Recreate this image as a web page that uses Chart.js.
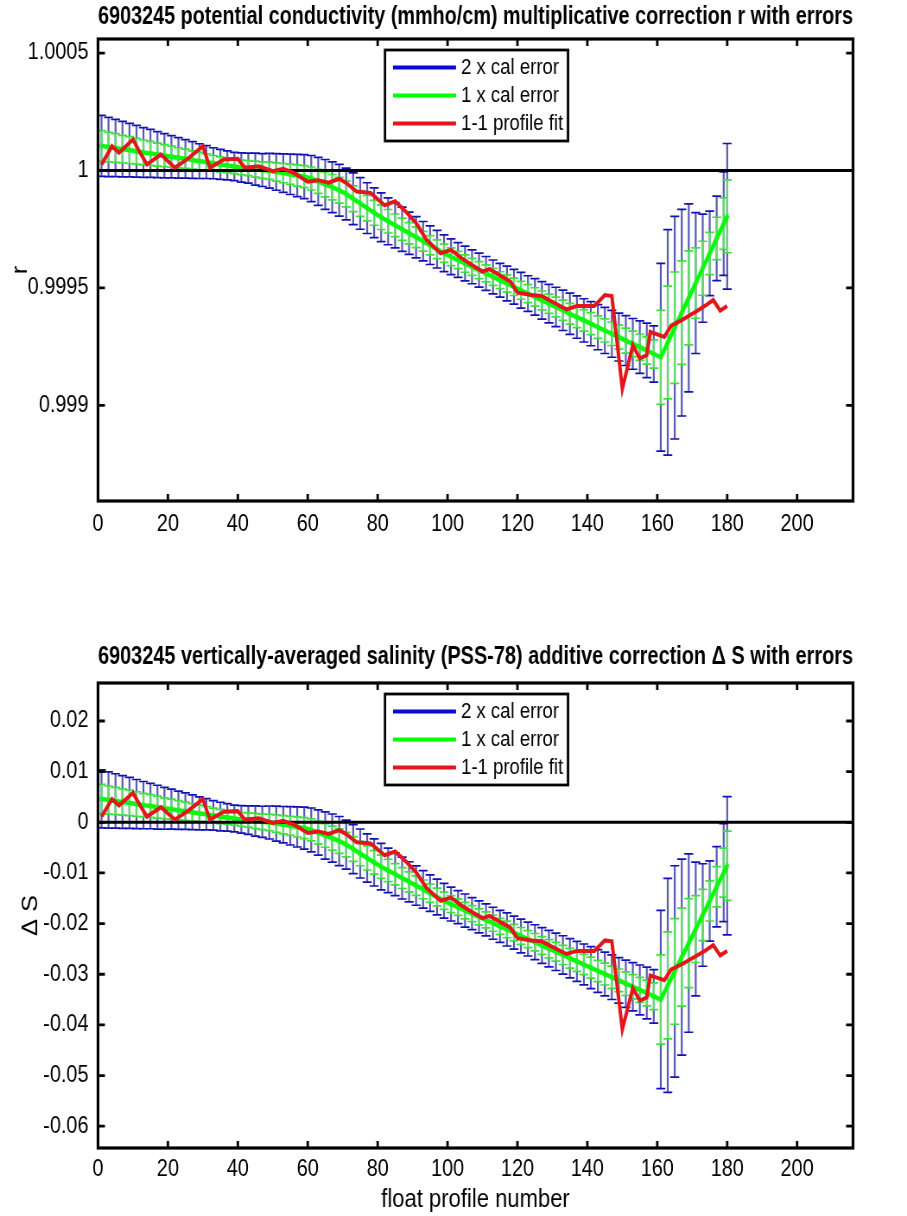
<!DOCTYPE html>
<html>
<head>
<meta charset="utf-8">
<script src="https://cdn.jsdelivr.net/npm/chart.js@4.4.1/dist/chart.umd.min.js"></script>
<style>
  html, body { margin: 0; padding: 0; background: #fff; overflow: hidden; }
  /* the original figure was squeezed horizontally, so draw wide and scale it back */
  canvas { position: absolute; left: 0; transform-origin: 0 0; transform: scaleX(0.8638); }
  #top { top: 0; }
  #bottom { top: 600px; }
</style>
</head>
<body>
<canvas id="top" width="1050" height="600"></canvas>
<canvas id="bottom" width="1050" height="616"></canvas>
<script>
// profile numbers used for the calibration fit + error bars
const profiles = [1,3,5,7,9,11,13,15,17,19,21,23,25,27,29,31,33,35,37,39,41,43,45,47,49,51,53,55,57,59,
  61,63,65,67,69,71,73,75,77,79,81,83,85,87,89,91,93,95,97,99,101,103,105,107,109,111,113,115,117,119,
  121,123,125,127,129,131,133,135,137,139,141,143,145,147,149,151,153,155,157,159,161,163,165,167,169,171,173,175,177,179,180];

// r (multiplicative correction) fit and 1 x cal error
const rFit = [1.000105,1.000100,1.000096,1.000091,1.000087,1.000082,1.000077,1.000073,1.000068,1.000063,
  1.000059,1.000054,1.000050,1.000045,1.000040,1.000036,1.000031,1.000026,1.000022,1.000017,
  1.000013,1.000010,1.000006,1.000002,0.999999,0.999994,0.999989,0.999984,0.999979,0.999974,
  0.999966,0.999954,0.999941,0.999929,0.999916,0.999900,0.999880,0.999860,0.999840,0.999820,
  0.999801,0.999784,0.999767,0.999750,0.999733,0.999716,0.999699,0.999682,0.999665,0.999648,
  0.999633,0.999619,0.999604,0.999590,0.999576,0.999562,0.999547,0.999533,0.999519,0.999505,
  0.999490,0.999476,0.999462,0.999447,0.999433,0.999419,0.999405,0.999390,0.999376,0.999362,
  0.999348,0.999333,0.999319,0.999305,0.999291,0.999276,0.999262,0.999248,0.999234,0.999219,
  0.999205,0.999268,0.999331,0.999395,0.999458,0.999521,0.999584,0.999647,0.999711,0.999774,0.999805];
const rErr = [0.000065,0.000063,0.000061,0.000059,0.000057,0.000055,0.000053,0.000051,0.000049,0.000047,
  0.000045,0.000043,0.000041,0.000039,0.000037,0.000035,0.000033,0.000032,0.000031,0.000030,
  0.000031,0.000032,0.000034,0.000035,0.000037,0.000039,0.000041,0.000043,0.000045,0.000047,
  0.000049,0.000051,0.000053,0.000054,0.000055,0.000055,0.000055,0.000055,0.000054,0.000053,
  0.000052,0.000050,0.000048,0.000047,0.000045,0.000044,0.000042,0.000041,0.000040,0.000039,
  0.000038,0.000037,0.000037,0.000036,0.000036,0.000036,0.000036,0.000036,0.000037,0.000037,
  0.000038,0.000038,0.000039,0.000040,0.000041,0.000042,0.000043,0.000044,0.000045,0.000046,
  0.000047,0.000048,0.000049,0.000050,0.000051,0.000053,0.000054,0.000056,0.000058,0.000060,
  0.000200,0.000240,0.000237,0.000220,0.000200,0.000150,0.000115,0.000090,0.000090,0.000110,0.000155];

// delta S (additive correction) fit and 1 x cal error
const dsFit = [0.00462,0.00440,0.00422,0.00400,0.00383,0.00361,0.00339,0.00321,0.00299,0.00277,
  0.00260,0.00238,0.00220,0.00198,0.00176,0.00158,0.00136,0.00114,0.00097,0.00075,
  0.00057,0.00044,0.00026,0.00009,-0.00004,-0.00026,-0.00048,-0.00070,-0.00092,-0.00114,
  -0.00150,-0.00202,-0.00260,-0.00312,-0.00370,-0.00440,-0.00528,-0.00616,-0.00704,-0.00792,
  -0.00876,-0.00950,-0.01025,-0.01100,-0.01175,-0.01250,-0.01324,-0.01399,-0.01474,-0.01549,
  -0.01615,-0.01676,-0.01742,-0.01804,-0.01866,-0.01927,-0.01993,-0.02055,-0.02116,-0.02178,
  -0.02244,-0.02306,-0.02367,-0.02433,-0.02495,-0.02556,-0.02618,-0.02684,-0.02746,-0.02807,
  -0.02869,-0.02935,-0.02996,-0.03058,-0.03120,-0.03186,-0.03247,-0.03309,-0.03370,-0.03436,
  -0.03498,-0.03221,-0.02944,-0.02662,-0.02385,-0.02108,-0.01830,-0.01553,-0.01272,-0.00994,-0.00858];
const dsErr = [0.00286,0.00277,0.00268,0.00260,0.00251,0.00242,0.00233,0.00224,0.00216,0.00207,
  0.00198,0.00189,0.00180,0.00172,0.00163,0.00154,0.00145,0.00141,0.00136,0.00132,
  0.00136,0.00141,0.00150,0.00154,0.00163,0.00172,0.00180,0.00189,0.00198,0.00207,
  0.00216,0.00224,0.00233,0.00238,0.00242,0.00242,0.00242,0.00242,0.00238,0.00233,
  0.00229,0.00220,0.00211,0.00207,0.00198,0.00194,0.00185,0.00180,0.00176,0.00172,
  0.00167,0.00163,0.00163,0.00158,0.00158,0.00158,0.00158,0.00158,0.00163,0.00163,
  0.00167,0.00167,0.00172,0.00176,0.00180,0.00185,0.00189,0.00194,0.00198,0.00202,
  0.00207,0.00211,0.00216,0.00220,0.00224,0.00233,0.00238,0.00246,0.00255,0.00264,
  0.00880,0.01056,0.01043,0.00968,0.00880,0.00660,0.00506,0.00396,0.00396,0.00484,0.00682];

// 1-1 profile fit (red)
const fitProfiles = [1,4,6,10,12,14,18,22,26,30,32,36,40,42,46,50,53,56,60,63,
  66,69,71,74,78,82,85,88,91,94,98,101,104,107,110,112,118,120,124,127,
  129,134,137,142,145,147,150,153,155,157,158,162,164,167,171,174,176,178,180];
const rProfileFit = [1.000025,1.000104,1.000076,1.000132,1.000076,1.000026,1.000068,1.000012,1.000054,1.000104,
  1.000012,1.000047,1.000050,1.000012,1.000018,0.999997,1.000007,0.999990,0.999952,0.999959,
  0.999948,0.999965,0.999947,0.999910,0.999905,0.999852,0.999869,0.999826,0.999776,0.999705,
  0.999648,0.999662,0.999627,0.999598,0.999570,0.999580,0.999527,0.999480,0.999470,0.999466,
  0.999449,0.999409,0.999423,0.999423,0.999470,0.999466,0.999071,0.999256,0.999200,0.999214,
  0.999313,0.999292,0.999340,0.999363,0.999399,0.999427,0.999449,0.999403,0.999423];
const dsProfileFit = [0.00110,0.00458,0.00334,0.00581,0.00334,0.00114,0.00299,0.00053,0.00238,0.00458,
  0.00053,0.00207,0.00220,0.00053,0.00079,-0.00013,0.00031,-0.00044,-0.00211,-0.00180,
  -0.00229,-0.00154,-0.00233,-0.00396,-0.00418,-0.00651,-0.00576,-0.00766,-0.00986,-0.01298,
  -0.01549,-0.01487,-0.01641,-0.01769,-0.01892,-0.01848,-0.02081,-0.02288,-0.02332,-0.02350,
  -0.02424,-0.02600,-0.02539,-0.02539,-0.02332,-0.02350,-0.04088,-0.03274,-0.03520,-0.03458,
  -0.03023,-0.03115,-0.02904,-0.02803,-0.02644,-0.02521,-0.02424,-0.02627,-0.02539];

// axes
const xTicks = [0,20,40,60,80,100,120,140,160,180,200];
const rTicks = [0.999,0.9995,1,1.0005];
const dsTicks = [-0.06,-0.05,-0.04,-0.03,-0.02,-0.01,0,0.01,0.02];
const xLim = [0, 216];
const rLim = [0.998593, 1.00056];
const dsLim = [-0.0643, 0.0275];

const SQ = 0.8638;          // horizontal squeeze applied by css
const FONT = "'Liberation Sans', Arial, Helvetica, sans-serif";
Chart.defaults.font.family = FONT;
Chart.defaults.color = '#000';

function fitFont(text, target) {
  const c = document.createElement('canvas').getContext('2d');
  let s = 30;
  while (s > 10) {
    c.font = 'bold ' + s + 'px ' + FONT;
    if (c.measureText(text).width <= target) break;
    s -= 0.25;
  }
  return s;
}

// vertical error bars, drawn just under the line of the dataset that owns them
const errorBars = {
  id: 'errorBars',
  beforeDatasetDraw(chart, args) {
    const ds = chart.data.datasets[args.index];
    if (!ds.errors) return;
    const { ctx, chartArea: a } = chart;
    const xs = chart.scales.x, ys = chart.scales.y;
    const cap = 4.5 / SQ;
    ctx.save();
    ctx.beginPath();
    ctx.rect(a.left, a.top, a.right - a.left, a.bottom - a.top);
    ctx.clip();
    ds.data.forEach((p, i) => {
      const e = ds.errors[i] * ds.errMult;
      const px = xs.getPixelForValue(p.x);
      const hi = ys.getPixelForValue(p.y + e);
      const lo = ys.getPixelForValue(p.y - e);
      ctx.strokeStyle = ds.stemColor;
      ctx.lineWidth = 2.2;
      ctx.beginPath();
      ctx.moveTo(px, hi); ctx.lineTo(px, lo);
      ctx.stroke();
      ctx.strokeStyle = ds.capColor;
      ctx.lineWidth = 1.7;
      ctx.beginPath();
      ctx.moveTo(px - cap, hi); ctx.lineTo(px + cap, hi);
      ctx.moveTo(px - cap, lo); ctx.lineTo(px + cap, lo);
      ctx.stroke();
    });
    ctx.restore();
  }
};

// matlab style box with inward ticks
const frame = {
  id: 'frame',
  afterDraw(chart) {
    const { ctx, chartArea: a } = chart;
    const xs = chart.scales.x, ys = chart.scales.y;
    ctx.save();
    ctx.strokeStyle = '#000';
    ctx.lineWidth = 2.8;
    ctx.beginPath();
    xs.ticks.forEach(t => {
      const px = xs.getPixelForValue(t.value);
      ctx.moveTo(px, a.bottom); ctx.lineTo(px, a.bottom - 7);
      ctx.moveTo(px, a.top); ctx.lineTo(px, a.top + 7);
    });
    ys.ticks.forEach(t => {
      const py = ys.getPixelForValue(t.value);
      ctx.moveTo(a.left, py); ctx.lineTo(a.left + 8, py);
      ctx.moveTo(a.right, py); ctx.lineTo(a.right - 8, py);
    });
    ctx.stroke();
    ctx.lineWidth = 3.2;
    ctx.strokeRect(a.left, a.top, a.right - a.left, a.bottom - a.top);
    ctx.restore();
  }
};

// legend box inside the axes
const boxLegend = {
  id: 'boxLegend',
  afterDraw(chart) {
    const { ctx, chartArea: a } = chart;
    const items = chart.data.datasets.filter(d => d.label).sort((p, q) => q.order - p.order);
    const x0 = a.left + 287 / SQ, y0 = a.top + 11, w = 183 / SQ, h = 91;
    ctx.save();
    ctx.fillStyle = '#fff';
    ctx.fillRect(x0, y0, w, h);
    ctx.strokeStyle = '#000';
    ctx.lineWidth = 2.8;
    ctx.strokeRect(x0, y0, w, h);
    ctx.font = '21.5px ' + FONT;
    ctx.textBaseline = 'middle';
    items.forEach((d, i) => {
      const y = y0 + 17.5 + i * 28;
      ctx.strokeStyle = d.borderColor;
      ctx.lineWidth = 4;
      ctx.beginPath();
      ctx.moveTo(x0 + 8 / SQ, y); ctx.lineTo(x0 + 71 / SQ, y);
      ctx.stroke();
      ctx.fillStyle = '#000';
      ctx.fillText(d.label, x0 + 76 / SQ, y + 1);
    });
    ctx.restore();
  }
};

function makeChart(id, c) {
  const centre = profiles.map((x, i) => ({ x, y: c.fit[i] }));
  const tSize = fitFont(c.title, 852 / SQ);
  const tTop = c.titleMid - tSize * 0.6;
  const tBottom = c.areaTop - tTop - tSize * 1.2;
  return new Chart(document.getElementById(id), {
    type: 'line',
    data: {
      datasets: [
        { label: '1-1 profile fit', data: fitProfiles.map((x, i) => ({ x, y: c.profileFit[i] })),
          borderColor: '#e3161b', borderWidth: 4, pointRadius: 0, order: 0 },
        { label: '', data: [{ x: xLim[0], y: c.ref }, { x: xLim[1], y: c.ref }],
          borderColor: '#000', borderWidth: 3, pointRadius: 0, order: 1 },
        { label: '1 x cal error', data: centre, errors: c.err, errMult: 1,
          stemColor: 'rgba(95,238,95,0.9)', capColor: '#3ee03e',
          borderColor: '#00ff00', borderWidth: 4.5, pointStyle: 'star', pointRadius: 3,
          pointBorderWidth: 1, pointBorderColor: '#22ee22', order: 2 },
        { label: '2 x cal error', data: centre, errors: c.err, errMult: 2,
          stemColor: 'rgba(60,60,170,0.85)', capColor: '#1212b4',
          borderColor: '#0a0ad2', borderWidth: 2, pointRadius: 0, order: 3 }
      ]
    },
    options: {
      responsive: false,
      animation: false,
      devicePixelRatio: 1,
      layout: { padding: { left: 0, right: 1050 - 853 / SQ, top: 0, bottom: 0 } },
      plugins: {
        legend: { display: false },
        tooltip: { enabled: false },
        title: {
          display: true, text: c.title, fullSize: false, color: '#000',
          font: { family: FONT, size: tSize, weight: 'bold', lineHeight: 1.2 },
          padding: { top: tTop, bottom: tBottom }
        }
      },
      scales: {
        x: {
          type: 'linear', min: xLim[0], max: xLim[1],
          grid: { display: false }, border: { display: false },
          afterBuildTicks: s => { s.ticks = xTicks.map(v => ({ value: v })); },
          afterFit: s => { s.height = c.xHeight; },
          ticks: { font: { size: 23 }, padding: c.xPad, maxRotation: 0, autoSkip: false,
                   callback: v => String(v) },
          title: { display: !!c.xTitle, text: c.xTitle || '', font: { size: 25.5, lineHeight: 1.2 },
                   padding: { top: 0, bottom: 1 } }
        },
        y: {
          type: 'linear', min: c.lim[0], max: c.lim[1],
          grid: { display: false }, border: { display: false },
          afterBuildTicks: s => { s.ticks = c.ticks.map(v => ({ value: v })); },
          afterFit: s => { s.width = 98 / SQ; },
          ticks: { font: { size: 23 }, padding: 3, autoSkip: false, callback: v => String(v) },
          title: { display: true, text: c.yTitle, font: { size: 25.5, lineHeight: 1.2 },
                   padding: { top: c.yTitlePad, bottom: 0 } }
        }
      }
    },
    plugins: [errorBars, frame, boxLegend]
  });
}

makeChart('top', {
  title: '6903245 potential conductivity (mmho/cm) multiplicative correction r with errors',
  titleMid: 17, areaTop: 39, xHeight: 99, xPad: 1.5,
  fit: rFit, err: rErr, profileFit: rProfileFit, ref: 1,
  lim: rLim, ticks: rTicks, yTitle: 'r', yTitlePad: 8.5
});

makeChart('bottom', {
  title: '6903245 vertically-averaged salinity (PSS-78) additive correction \u0394 S with errors',
  titleMid: 57, areaTop: 83, xHeight: 68, xPad: 0, xTitle: 'float profile number',
  fit: dsFit, err: dsErr, profileFit: dsProfileFit, ref: 0,
  lim: dsLim, ticks: dsTicks, yTitle: '\u0394 S', yTitlePad: 21
});
</script>
</body>
</html>
